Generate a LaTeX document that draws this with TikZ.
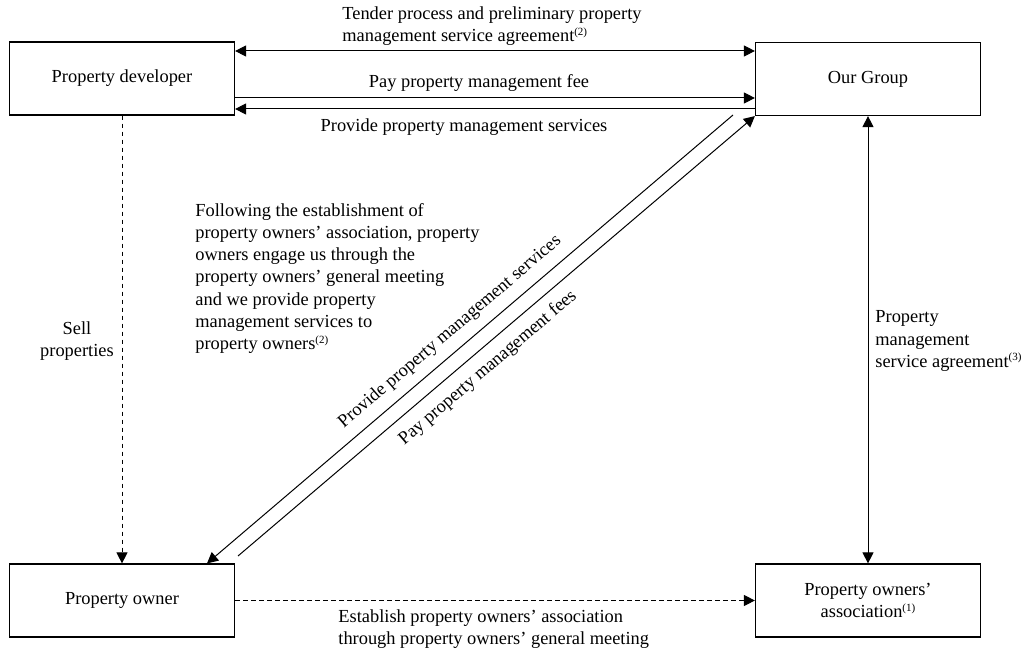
\documentclass[tikz,border=0pt]{standalone}
\usepackage{fontspec}
\setmainfont{Liberation Serif}
\usetikzlibrary{arrows.meta}
\newcommand\dfont{\fontsize{9.2}{11.1}\selectfont}
\newcommand\sfn[1]{\raisebox{3.2pt}{\fontsize{5.5}{6}\selectfont(#1)}}
\begin{document}
\begin{tikzpicture}[x=0.5pt,y=-0.5pt,
  box/.style={draw, line width=0.6pt, minimum width=112.5pt, minimum height=36.5pt, inner sep=0pt, font=\dfont, align=center},
  tip/.style={-{Triangle[length=5.5pt,width=5.5pt]}},
  conn/.style={line width=0.5pt, tip},
  both/.style={line width=0.5pt, {Triangle[length=5.5pt,width=5.5pt]}-{Triangle[length=5.5pt,width=5.5pt]}},
  dsh/.style={dash pattern=on 2.2pt off 1.8pt},
  lbl/.style={inner sep=0pt, font=\dfont, align=left},
  clbl/.style={inner sep=0pt, font=\dfont, align=center}]
\useasboundingbox[fill=white] (0,0) rectangle (1023,652);

% boxes
\node[box] (dev) at (122,78.5) {Property developer};
\node[box] (grp) at (868,79) {Our Group};
\node[box] (owner) at (122,600.5) {Property owner};
\node[box] (assoc) at (868,600.5) {Property owners’\\association\sfn{1}};

% helper coordinates
\coordinate (h51) at (0,51);
\coordinate (h98) at (0,98);
\coordinate (h109) at (0,109);
\coordinate (d1s) at (733,115);
\coordinate (x207) at (207,0);
\coordinate (d2s) at (238,556);

% top connectors
\draw[both] (dev.east |- h51) -- (grp.west |- h51);
\draw[conn] (dev.east |- h98) -- (grp.west |- h98);
\draw[conn] (grp.west |- h109) -- (dev.east |- h109);

% verticals
\draw[conn, dsh] (dev.south) -- (owner.north);
\draw[both] (grp.south) -- (assoc.north);

% bottom
\draw[conn, dsh] (owner.east) -- (assoc.west);

% diagonals
\draw[conn] (d1s) -- (x207 |- owner.north);
\draw[conn] (d2s) -- (grp.south west);

% labels
\node[lbl, anchor=west] (ltender) at (342,26) {Tender process and preliminary property\\management service agreement\sfn{2}};
\node[clbl] (lpay) at (479,83) {Pay property management fee};
\node[clbl] (lprovtop) at (464,127) {Provide property management services};
\node[clbl] (lsell) at (77,341) {Sell\\properties};
\node[lbl, anchor=west] (lblock) at (195,278.5) {Following the establishment of\\property owners’ association, property\\owners engage us through the\\property owners’ general meeting\\and we provide property\\management services to\\property owners\sfn{2}};
\node[lbl, anchor=west] (lagree) at (875,341) {Property\\management\\service agreement\sfn{3}};
\node[lbl, anchor=west] (lest) at (338,629) {Establish property owners’ association\\through property owners’ general meeting};
\node[clbl, rotate=40.5] (lprov) at (450,332) {Provide property management services};
\node[clbl, rotate=40.5] (lfees) at (488,368) {Pay property management fees};
\end{tikzpicture}
\end{document}
